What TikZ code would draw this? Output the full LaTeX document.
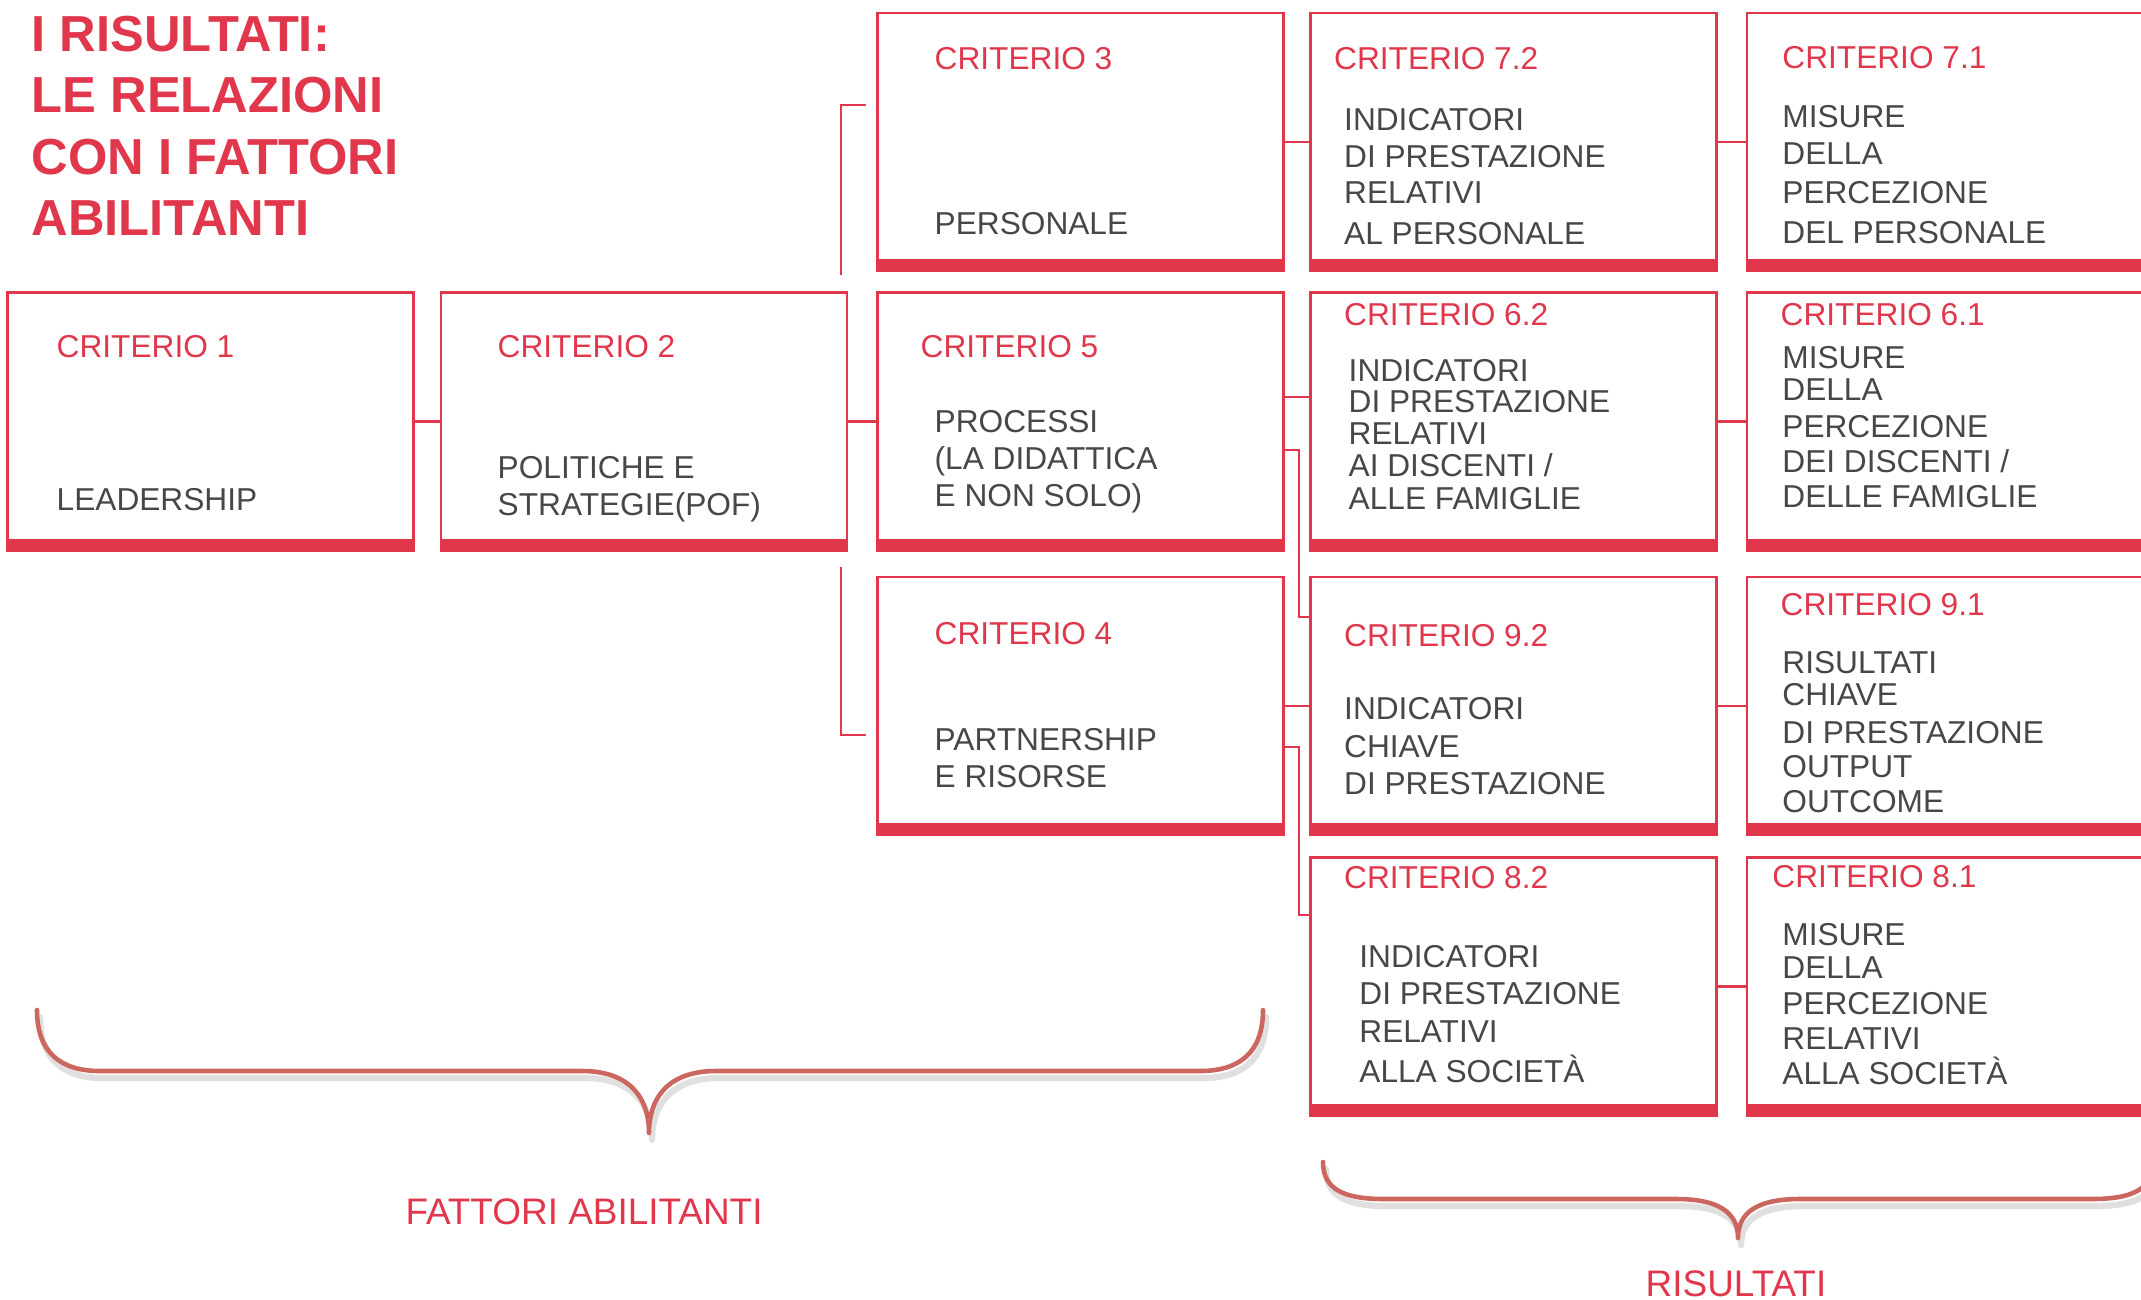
\documentclass[tikz,border=0pt]{standalone}
\usepackage{fontspec}
\setmainfont{Liberation Sans}
\usetikzlibrary{calc}
\definecolor{critred}{RGB}{225,55,76}
\definecolor{txtgray}{RGB}{71,71,71}
\definecolor{bracered}{RGB}{204,103,96}
\begin{document}
\begin{tikzpicture}[x=0.01cm, y=-0.01cm,
  crit/.style={draw=critred, line width=0.7pt, fill=white, rectangle, inner sep=0pt,
    minimum width=4.06cm, minimum height=2.58cm,
    path picture={\fill[critred] ([yshift=0.12cm]path picture bounding box.south west) rectangle (path picture bounding box.south east);}},
  lab/.style={anchor=base west, inner sep=0pt, text=critred, font=\fontsize{9}{11}\selectfont},
  txt/.style={anchor=base west, inner sep=0pt, text=txtgray, font=\fontsize{9}{11}\selectfont},
  ttl/.style={anchor=base west, inner sep=0pt, text=critred, font=\fontsize{14.4}{17}\selectfont\bfseries},
  biglab/.style={anchor=base, inner sep=0pt, text=critred, font=\fontsize{10.5}{12}\selectfont},
  link/.style={draw=critred, line width=0.6pt},
  brace/.style={draw=bracered, line width=1.3pt, line cap=round, line join=round},
  braceshadow/.style={draw=black, opacity=0.12, line width=1.8pt, line cap=round, line join=round}
  ]
\useasboundingbox (0,0) rectangle (2141,1299);
\fill[white] (0,0) rectangle (2141,1299);
\clip (0,0) rectangle (2141,1299);

% title
\node[ttl] (t1) at (31,51) {I RISULTATI:};
\node[ttl] (t2) at (31,112) {LE RELAZIONI};
\node[ttl] (t3) at (31,174) {CON I FATTORI};
\node[ttl] (t4) at (31,235.5) {ABILITANTI};

% boxes
\node[crit] (c1) at (210.5,421.5) {};
\node[crit] (c2) at (644,421.5) {};
\node[crit] (c3) at (1080.5,142) {};
\node[crit] (c5) at (1080.5,421.5) {};
\node[crit] (c4) at (1080.5,706) {};
\node[crit] (c72) at (1513.5,142) {};
\node[crit] (c62) at (1513.5,421.5) {};
\node[crit] (c92) at (1513.5,706) {};
\node[crit] (c82) at (1513.5,986.5) {};
\node[crit] (c71) at (1950,142) {};
\node[crit] (c61) at (1950,421.5) {};
\node[crit] (c91) at (1950,706) {};
\node[crit] (c81) at (1950,986.5) {};

% connectors
\draw[link] (c1.east) -- (c2.west);
\draw[link] (c2.east) -- (c5.west);
\draw[link] (c3.east) -- (c72.west);
\draw[link] (c72.east) -- (c71.west);
\draw[link] ($(c5.east)+(0,-24.5)$) -- ($(c62.west)+(0,-24.5)$);
\draw[link] (c62.east) -- (c61.west);
\draw[link] ($(c5.east)+(0,28.5)$) -- ++(14,0) |- ($(c92.west)+(0,-89)$);
\draw[link] (c4.east) -- (c92.west);
\draw[link] ($(c4.east)+(0,41)$) -- ++(14,0) |- ($(c82.west)+(0,-71.5)$);
\draw[link] (c92.east) -- (c91.west);
\draw[link] (c82.east) -- (c81.west);
\coordinate (b1top) at (866,105);
\coordinate (b1bot) at (841,275);
\draw[link] (b1top) -| (b1bot);
\coordinate (b2top) at (841,567);
\coordinate (b2bot) at (866,735);
\draw[link] (b2top) |- (b2bot);

% box texts
\node[lab] (l1) at (56,357) {CRITERIO 1};
\node[txt] (x1a) at (56,510) {LEADERSHIP};

\node[lab] (l2) at (497,357) {CRITERIO 2};
\node[txt] (x2a) at (497,478) {POLITICHE E};
\node[txt] (x2b) at (497,515) {STRATEGIE(POF)};

\node[lab] (l3) at (934,69.6) {CRITERIO 3};
\node[txt] (x3a) at (934,234) {PERSONALE};

\node[lab] (l5) at (920,357) {CRITERIO 5};
\node[txt] (x5a) at (934,432) {PROCESSI};
\node[txt] (x5b) at (934,469.5) {(LA DIDATTICA};
\node[txt] (x5c) at (934,506) {E NON SOLO)};

\node[lab] (l4) at (934,644) {CRITERIO 4};
\node[txt] (x4a) at (934,750.5) {PARTNERSHIP};
\node[txt] (x4b) at (934,787) {E RISORSE};

\node[lab] (l72) at (1333.5,69.6) {CRITERIO 7.2};
\node[txt] (x72a) at (1343.5,130) {INDICATORI};
\node[txt] (x72b) at (1343.5,167) {DI PRESTAZIONE};
\node[txt] (x72c) at (1343.5,203.5) {RELATIVI};
\node[txt] (x72d) at (1343.5,244) {AL PERSONALE};

\node[lab] (l62) at (1343.5,325.7) {CRITERIO 6.2};
\node[txt] (x62a) at (1348,381) {INDICATORI};
\node[txt] (x62b) at (1348,412.5) {DI PRESTAZIONE};
\node[txt] (x62c) at (1348,444.6) {RELATIVI};
\node[txt] (x62d) at (1348,476.8) {AI DISCENTI /};
\node[txt] (x62e) at (1348,509) {ALLE FAMIGLIE};

\node[lab] (l92) at (1343.5,646.4) {CRITERIO 9.2};
\node[txt] (x92a) at (1343.5,719) {INDICATORI};
\node[txt] (x92b) at (1343.5,757) {CHIAVE};
\node[txt] (x92c) at (1343.5,794.5) {DI PRESTAZIONE};

\node[lab] (l82) at (1343.5,888.3) {CRITERIO 8.2};
\node[txt] (x82a) at (1358.7,967.5) {INDICATORI};
\node[txt] (x82b) at (1358.7,1004) {DI PRESTAZIONE};
\node[txt] (x82c) at (1358.7,1042.5) {RELATIVI};
\node[txt] (x82d) at (1358.7,1082.7) {ALLA SOCIETÀ};

\node[lab] (l71) at (1781.7,68.6) {CRITERIO 7.1};
\node[txt] (x71a) at (1781.7,127.5) {MISURE};
\node[txt] (x71b) at (1781.7,164) {DELLA};
\node[txt] (x71c) at (1781.7,203) {PERCEZIONE};
\node[txt] (x71d) at (1781.7,243) {DEL PERSONALE};

\node[lab] (l61) at (1780,325.7) {CRITERIO 6.1};
\node[txt] (x61a) at (1781.7,368.6) {MISURE};
\node[txt] (x61b) at (1781.7,400.7) {DELLA};
\node[txt] (x61c) at (1781.7,437.5) {PERCEZIONE};
\node[txt] (x61d) at (1781.7,472) {DEI DISCENTI /};
\node[txt] (x61e) at (1781.7,507) {DELLE FAMIGLIE};

\node[lab] (l91) at (1780,615) {CRITERIO 9.1};
\node[txt] (x91a) at (1781.7,673) {RISULTATI};
\node[txt] (x91b) at (1781.7,705.5) {CHIAVE};
\node[txt] (x91c) at (1781.7,743) {DI PRESTAZIONE};
\node[txt] (x91d) at (1781.7,777) {OUTPUT};
\node[txt] (x91e) at (1781.7,812) {OUTCOME};

\node[lab] (l81) at (1771.7,887) {CRITERIO 8.1};
\node[txt] (x81a) at (1781.7,945.6) {MISURE};
\node[txt] (x81b) at (1781.7,978) {DELLA};
\node[txt] (x81c) at (1781.7,1014) {PERCEZIONE};
\node[txt] (x81d) at (1781.7,1049) {RELATIVI};
\node[txt] (x81e) at (1781.7,1084.5) {ALLA SOCIETÀ};

% braces
\begin{scope}[shift={(3,7)}]
\draw[braceshadow] (37,1010) .. controls (37,1052) and (60,1071) .. (100,1071) -- (582,1071)
  .. controls (630,1071) and (649,1098) .. (649,1133)
  .. controls (649,1098) and (668,1071) .. (716,1071) -- (1200,1071)
  .. controls (1240,1071) and (1263,1052) .. (1263,1010);
\draw[braceshadow] (1323,1162) .. controls (1323,1190) and (1345,1199) .. (1384,1199) -- (1676,1199)
  .. controls (1718,1199) and (1738,1212) .. (1738,1238)
  .. controls (1738,1212) and (1758,1199) .. (1800,1199) -- (2092,1199)
  .. controls (2131,1199) and (2153,1190) .. (2153,1162);
\end{scope}
\draw[brace] (37,1010) .. controls (37,1052) and (60,1071) .. (100,1071) -- (582,1071)
  .. controls (630,1071) and (649,1098) .. (649,1133)
  .. controls (649,1098) and (668,1071) .. (716,1071) -- (1200,1071)
  .. controls (1240,1071) and (1263,1052) .. (1263,1010);
\draw[brace] (1323,1162) .. controls (1323,1190) and (1345,1199) .. (1384,1199) -- (1676,1199)
  .. controls (1718,1199) and (1738,1212) .. (1738,1238)
  .. controls (1738,1212) and (1758,1199) .. (1800,1199) -- (2092,1199)
  .. controls (2131,1199) and (2153,1190) .. (2153,1162);

\node[biglab] (fa) at (584,1224) {FATTORI ABILITANTI};
\node[biglab] (ris) at (1736,1296) {RISULTATI};
\end{tikzpicture}
\end{document}
